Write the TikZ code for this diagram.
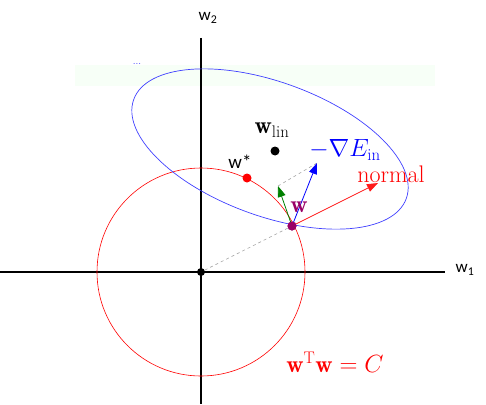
\documentclass[tikz,border=0pt]{standalone}
\usepackage{xcolor}
\usepackage{amsmath}
\usepackage{fontspec}
\newfontfamily\axisfont{Carlito}
\usetikzlibrary{positioning,arrows.meta}

\begin{document}
\begin{tikzpicture}[x=1pt,y=-1pt,
				dotnode/.style={circle, inner sep=0pt, minimum size=9pt},
				axisline/.style={line width=1.6pt, black},
				vecarrow/.style={line width=0.8pt, -{Triangle[length=11pt,width=8pt]}},
				guideline/.style={gray!70, dashed, line width=0.6pt},
				mathlabel/.style={font=\fontsize{24}{26}\selectfont},
				axislabel/.style={font=\axisfont\fontsize{17}{18}\selectfont},
				]
				\useasboundingbox (0,0) rectangle (486,404);
				\fill[green!3] (75,65) rectangle (435,86);
				
				%Axes
				\draw[axisline] (0,272) -- (445,272);
				\draw[axisline] (201,38) -- (201,404);
				\node[axislabel] (lblw1) at (465,270) {w\textsubscript{1}};
				\node[axislabel] (lblw2) at (208,18) {w\textsubscript{2}};
				
				%Curves
				\draw[red, line width=0.6pt] (201,272) circle [radius=104];
				\draw[blue!75, line width=0.7pt, shift={(270,149)}, rotate=-20] (0,0) ellipse [x radius=145, y radius=67];
				
				%Nodes
				\node[dotnode, fill=black, minimum size=8pt] (orig) at (201,272) {};
				\node[dotnode, fill=violet!80!red] (w) at (292,226) {};
				\node[dotnode, fill=red] (wstar) at (247,178) {};
				\node[dotnode, fill=black] (wlin) at (275,151) {};
				\coordinate (normaltip) at (378,183);
				\coordinate (gradtip) at (317,163);
				\coordinate (greentip) at (278,186);
				
				%Lines
				\draw[guideline] (orig) -- (w.center);
				\draw[guideline] (greentip) -- (gradtip);
				\draw[vecarrow, red!90] (w.center) -- (normaltip);
				\draw[vecarrow, blue] (w.center) -- (gradtip);
				\draw[vecarrow, green!50!black] (w.center) -- (greentip);
				\node[dotnode, fill=violet!80!red] at (w) {};
				
				%Labels
				\node[blue!75] (dots) at (137,64) {...};
				\node[axislabel, font=\axisfont\fontsize{19}{20}\selectfont] (lblwstar) at (240,162) {w*};
				\node[mathlabel] (lblwlin) at (272,130) {$\mathbf{w}_{\mathrm{lin}}$};
				\node[mathlabel, blue] (lblgrad) at (345,150) {$-\nabla E_{\mathrm{in}}$};
				\node[mathlabel, red] (lblnormal) at (391,174) {normal};
				\node[mathlabel, violet!80!red] (lblw) at (299,207) {$\mathbf{w}$};
				\node[mathlabel, red] (lblconstr) at (335,362) {$\mathbf{w}^{\mathrm{T}}\mathbf{w} = C$};
				
			\end{tikzpicture}
\end{document}
